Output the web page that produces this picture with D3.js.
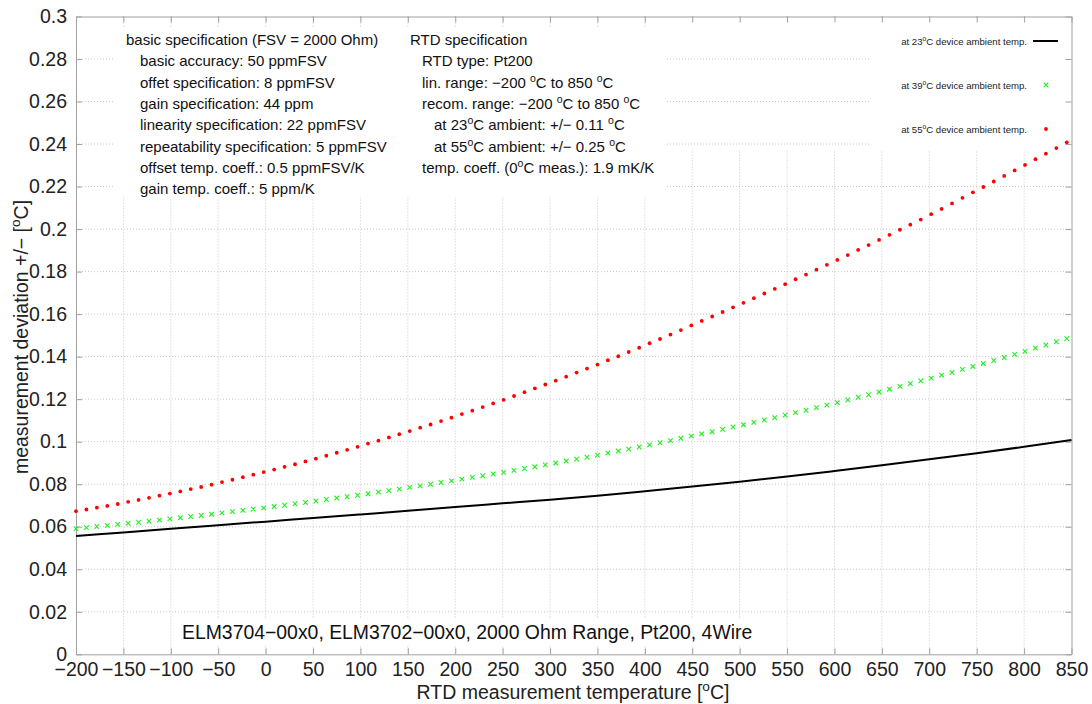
<!DOCTYPE html>
<html>
<head>
<meta charset="utf-8">
<script src="https://cdn.jsdelivr.net/npm/d3@7"></script>
<style>
  body { margin: 0; background: #fff; }
  svg { display: block; font-family: "Liberation Sans", Arial, sans-serif; }
</style>
</head>
<body>
<svg id="chart" width="1092" height="704"></svg>
<script>
// --- data ---
const xTicks = [-200, -150, -100, -50, 0, 50, 100, 150, 200, 250, 300, 350, 400, 450, 500, 550, 600, 650, 700, 750, 800, 850];
const yTicks = [0, 0.02, 0.04, 0.06, 0.08, 0.1, 0.12, 0.14, 0.16, 0.18, 0.2, 0.22, 0.24, 0.26, 0.28, 0.3];

// temperatures of the sampled points (markers)
const sampleTemps = [-200, -189, -178, -167, -156, -145, -134, -123, -112, -101,
  -90, -79, -68, -57, -46, -35, -24, -13, -2, 9,
  20, 31, 42, 53, 64, 75, 86, 97, 108, 119,
  130, 141, 152, 163, 174, 185, 196, 207, 218, 229,
  240, 251, 262, 273, 284, 295, 306, 317, 328, 339,
  350, 361, 372, 383, 394, 405, 416, 427, 438, 449,
  460, 471, 482, 493, 504, 515, 526, 537, 548, 559,
  570, 581, 592, 603, 614, 625, 636, 647, 658, 669,
  680, 691, 702, 713, 724, 735, 746, 757, 768, 779,
  790, 801, 812, 823, 834, 845];

// 23 degC ambient (line)
const lineTemps = [-200, -150, -100, -50, 0, 50, 100, 150, 200, 250, 300, 350, 400, 450, 500, 550, 600, 650, 700, 750, 800, 850];
const dev23 = [0.0556, 0.0573, 0.0590, 0.0607, 0.0624, 0.0641, 0.0658, 0.0675, 0.0693, 0.0710, 0.0727,
  0.0746, 0.0767, 0.0789, 0.0812, 0.0836, 0.0862, 0.0889, 0.0917, 0.0946, 0.0976, 0.1008];

// 39 degC ambient (crosses)
const dev39 = [0.0591, 0.0596, 0.0601, 0.0606, 0.0611, 0.0616, 0.0621, 0.0626, 0.0631, 0.0637,
  0.0642, 0.0648, 0.0653, 0.0659, 0.0665, 0.0671, 0.0677, 0.0683, 0.0689, 0.0695,
  0.0701, 0.0708, 0.0714, 0.0721, 0.0728, 0.0735, 0.0741, 0.0748, 0.0755, 0.0763,
  0.0770, 0.0777, 0.0785, 0.0792, 0.0800, 0.0808, 0.0816, 0.0824, 0.0832, 0.0840,
  0.0848, 0.0856, 0.0865, 0.0874, 0.0882, 0.0891, 0.0900, 0.0909, 0.0918, 0.0927,
  0.0937, 0.0946, 0.0956, 0.0965, 0.0975, 0.0985, 0.0995, 0.1005, 0.1016, 0.1026,
  0.1037, 0.1047, 0.1058, 0.1069, 0.1080, 0.1091, 0.1102, 0.1113, 0.1125, 0.1137,
  0.1148, 0.1160, 0.1172, 0.1184, 0.1197, 0.1209, 0.1221, 0.1234, 0.1247, 0.1260,
  0.1273, 0.1286, 0.1299, 0.1313, 0.1326, 0.1340, 0.1354, 0.1368, 0.1382, 0.1396,
  0.1411, 0.1425, 0.1440, 0.1455, 0.1470, 0.1485];

// 55 degC ambient (dots)
const dev55 = [0.0673, 0.0681, 0.0690, 0.0698, 0.0707, 0.0717, 0.0726, 0.0736, 0.0746, 0.0756,
  0.0766, 0.0777, 0.0787, 0.0798, 0.0810, 0.0821, 0.0833, 0.0845, 0.0857, 0.0869,
  0.0882, 0.0894, 0.0907, 0.0920, 0.0934, 0.0948, 0.0962, 0.0976, 0.0991, 0.1005,
  0.1020, 0.1035, 0.1050, 0.1066, 0.1081, 0.1097, 0.1113, 0.1130, 0.1146, 0.1163,
  0.1180, 0.1197, 0.1215, 0.1233, 0.1251, 0.1269, 0.1287, 0.1306, 0.1325, 0.1344,
  0.1363, 0.1383, 0.1402, 0.1422, 0.1442, 0.1463, 0.1483, 0.1504, 0.1525, 0.1547,
  0.1568, 0.1589, 0.1610, 0.1632, 0.1653, 0.1675, 0.1697, 0.1719, 0.1741, 0.1764,
  0.1786, 0.1809, 0.1832, 0.1855, 0.1878, 0.1902, 0.1925, 0.1949, 0.1973, 0.1997,
  0.2021, 0.2045, 0.2070, 0.2095, 0.2121, 0.2147, 0.2173, 0.2198, 0.2224, 0.2250,
  0.2276, 0.2302, 0.2329, 0.2355, 0.2381, 0.2408];

const legendLabels = ["at 23^oC device ambient temp.", "at 39^oC device ambient temp.", "at 55^oC device ambient temp."];

const basicSpec = [
  "basic specification (FSV = 2000 Ohm)",
  "basic accuracy: 50 ppmFSV",
  "offet specification: 8 ppmFSV",
  "gain specification: 44 ppm",
  "linearity specification: 22 ppmFSV",
  "repeatability specification: 5 ppmFSV",
  "offset temp. coeff.: 0.5 ppmFSV/K",
  "gain temp. coeff.: 5 ppm/K"
];
const rtdSpec = [
  "RTD specification",
  "RTD type: Pt200",
  "lin. range: \u2212200 ^oC to 850 ^oC",
  "recom. range: \u2212200 ^oC to 850 ^oC",
  "at 23^oC ambient: +/\u2212 0.11 ^oC",
  "at 55^oC ambient: +/\u2212 0.25 ^oC",
  "temp. coeff. (0^oC meas.): 1.9 mK/K"
];
const rtdIndent = [0, 1, 1, 1, 2, 2, 1];
const chartTitle = "ELM3704\u221200x0, ELM3702\u221200x0, 2000 Ohm Range, Pt200, 4Wire";

// --- layout ---
const plotL = 76, plotR = 1071.5, plotT = 16.5, plotB = 654.3;
const svg = d3.select("#chart");
const x = d3.scaleLinear().domain([-200, 850]).range([plotL, plotR]);
const y = d3.scaleLinear().domain([0, 0.3]).range([plotB, plotT]);

// writes text with ^o style superscripts
function richText(sel, str, fs) {
  const parts = str.split(/\^(.)/);
  let sup = false;
  parts.forEach((p, i) => {
    if (i % 2 === 1) {
      sel.append("tspan").attr("font-size", fs * 0.7).attr("dy", -fs * 0.4).text(p);
      sup = true;
    } else if (p.length) {
      const t = sel.append("tspan").text(p);
      if (sup) { t.attr("dy", fs * 0.4); sup = false; }
    }
  });
  return sel;
}

const gridColor = "#c8c8c8";

// vertical grid
svg.append("g").selectAll("line").data(xTicks.slice(1, -1)).join("line")
  .attr("x1", d => x(d)).attr("x2", d => x(d))
  .attr("y1", plotT).attr("y2", plotB)
  .attr("stroke", gridColor).attr("stroke-width", 1).attr("stroke-dasharray", "1,2");

// area where only horizontal grid shows
svg.append("rect").attr("x", 665).attr("y", plotT + 1).attr("width", 205).attr("height", 132).attr("fill", "#fff");

// horizontal grid
svg.append("g").selectAll("line").data(yTicks.slice(1, -1)).join("line")
  .attr("x1", plotL).attr("x2", plotR)
  .attr("y1", d => y(d)).attr("y2", d => y(d))
  .attr("stroke", gridColor).attr("stroke-width", 1).attr("stroke-dasharray", "1,2");

// white boxes behind labels and key
svg.append("rect").attr("x", 115).attr("y", 28).attr("width", 550).attr("height", 169).attr("fill", "#fff");
svg.append("rect").attr("x", 870).attr("y", plotT + 1).attr("width", plotR - 870 - 1).attr("height", 133).attr("fill", "#fff");
svg.append("rect").attr("x", 176).attr("y", 618).attr("width", 584).attr("height", 28).attr("fill", "#fff");

// axes
const axisColor = "#a0a0a0";
const tickFont = 19.5;
const xAxis = svg.append("g").attr("transform", `translate(0,${plotB})`)
  .call(d3.axisBottom(x).tickValues(xTicks).tickSizeInner(-6).tickSizeOuter(0).tickPadding(5));
const xAxisTop = svg.append("g").attr("transform", `translate(0,${plotT})`)
  .call(d3.axisTop(x).tickValues(xTicks).tickSizeInner(-6).tickSizeOuter(0).tickFormat(""));
const yAxis = svg.append("g").attr("transform", `translate(${plotL},0)`)
  .call(d3.axisLeft(y).tickValues(yTicks).tickSizeInner(-6).tickSizeOuter(0).tickPadding(9)
    .tickFormat(d => d3.format("~g")(d)));
const yAxisRight = svg.append("g").attr("transform", `translate(${plotR},0)`)
  .call(d3.axisRight(y).tickValues(yTicks).tickSizeInner(-6).tickSizeOuter(0).tickFormat(""));

[xAxis, xAxisTop, yAxis, yAxisRight].forEach(g => {
  g.select(".domain").attr("stroke", axisColor);
  g.selectAll(".tick line").attr("stroke", axisColor);
  g.selectAll("text").attr("font-size", tickFont).attr("fill", "#222").attr("font-family", "Liberation Sans, Arial, sans-serif");
});
xAxis.selectAll("text").attr("dy", "0.85em");

// series
svg.append("path")
  .datum(lineTemps.map((t, i) => [t, dev23[i]]))
  .attr("fill", "none").attr("stroke", "#000").attr("stroke-width", 2)
  .attr("d", d3.line().x(d => x(d[0])).y(d => y(d[1])).curve(d3.curveMonotoneX));

const cross = 2.3;
svg.append("g").selectAll("path").data(sampleTemps.map((t, i) => [t, dev39[i]])).join("path")
  .attr("d", d => {
    const cx = x(d[0]), cy = y(d[1]);
    return `M${cx - cross},${cy - cross}L${cx + cross},${cy + cross}M${cx - cross},${cy + cross}L${cx + cross},${cy - cross}`;
  })
  .attr("stroke", "#22ee22").attr("stroke-width", 1.1).attr("fill", "none");

svg.append("g").selectAll("circle").data(sampleTemps.map((t, i) => [t, dev55[i]])).join("circle")
  .attr("cx", d => x(d[0])).attr("cy", d => y(d[1])).attr("r", 1.9).attr("fill", "#ff0000");

// legend
const legY = [41, 85, 129];
legendLabels.forEach((lab, i) => {
  const t = svg.append("text").attr("x", 1027).attr("y", legY[i] + 3.5)
    .attr("text-anchor", "end").attr("font-size", 9.6).attr("fill", "#222");
  richText(t, lab, 9.6);
});
svg.append("line").attr("x1", 1033).attr("x2", 1058).attr("y1", legY[0]).attr("y2", legY[0])
  .attr("stroke", "#000").attr("stroke-width", 2);
svg.append("path")
  .attr("d", `M${1046 - cross},${legY[1] - cross}L${1046 + cross},${legY[1] + cross}M${1046 - cross},${legY[1] + cross}L${1046 + cross},${legY[1] - cross}`)
  .attr("stroke", "#22ee22").attr("stroke-width", 1.1);
svg.append("circle").attr("cx", 1046).attr("cy", legY[2]).attr("r", 1.9).attr("fill", "#ff0000");

// spec text blocks
const specFont = 15;
basicSpec.forEach((s, i) => {
  svg.append("text").attr("x", i === 0 ? 126 : 140).attr("y", 45 + i * 21.3)
    .attr("font-size", specFont).attr("fill", "#111").text(s);
});
rtdSpec.forEach((s, i) => {
  const t = svg.append("text").attr("x", 410 + rtdIndent[i] * 12).attr("y", 45 + i * 21.3)
    .attr("font-size", specFont).attr("fill", "#111");
  richText(t, s, specFont);
});

// chart title inside plot
svg.append("text").attr("x", 182).attr("y", 639).attr("font-size", 19.4).attr("fill", "#111").text(chartTitle);

// axis titles
richText(svg.append("text").attr("x", 573).attr("y", 699).attr("text-anchor", "middle")
  .attr("font-size", 19.5).attr("fill", "#222"), "RTD measurement temperature [^oC]", 19.5);
richText(svg.append("text").attr("transform", "translate(28,337) rotate(-90)").attr("text-anchor", "middle")
  .attr("font-size", 19.5).attr("fill", "#222"), "measurement deviation +/\u2212 [^oC]", 19.5);
</script>
</body>
</html>
